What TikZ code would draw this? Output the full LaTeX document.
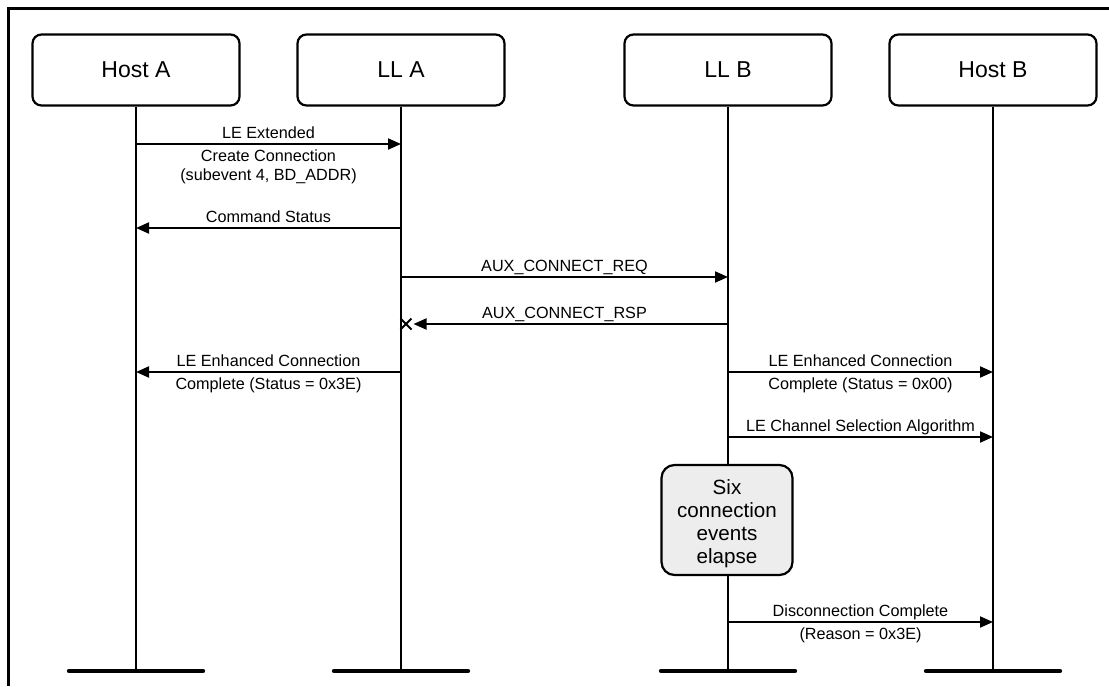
\documentclass[tikz,border=0pt]{standalone}
\usepackage{fontspec}
\setmainfont{Liberation Sans}
\usetikzlibrary{arrows.meta,calc,shapes.misc}

\begin{document}
\begin{tikzpicture}[x=0.5pt, y=-0.5pt, >={Triangle[length=6.5pt,width=5.5pt]},
    party/.style={draw, line width=1.1pt, rounded corners=4.5pt,
      minimum width=103.5pt, minimum height=35.5pt, inner sep=0pt,
      font=\fontsize{11.5}{14}\selectfont},
    lifeline/.style={line width=1pt},
    lineend/.style={line width=2.2pt, line cap=round},
    msg/.style={->, line width=1pt},
    uplbl/.style={anchor=base, yshift=2.6pt, inner sep=0pt,
      font=\fontsize{8.1}{9.5}\selectfont},
    dnlbl/.style={anchor=north, yshift=-2.3pt, inner sep=0pt, align=center,
      font=\fontsize{8.1}{9.5}\selectfont},
    lost/.style={cross out, draw, line width=1pt, minimum size=4.5pt, inner sep=0pt},
    waitbox/.style={draw, line width=1.1pt, rounded corners=6.5pt, fill=black!7,
      minimum width=65.5pt, minimum height=55pt, inner sep=0pt, align=center,
      font=\fontsize{10.3}{11.5}\selectfont}]
  \useasboundingbox (0,0) rectangle (1109,686);

  % frame
  \draw[line width=1.5pt] (8,686) -- (8,8) -- (1109,8);

  % parties
  \node[party] (hostA) at (136,70) {Host A};
  \node[party] (llA)   at (401,70) {LL A};
  \node[party] (llB)   at (728,70) {LL B};
  \node[party] (hostB) at (993,70) {Host B};

  \foreach \p in {hostA,llA,llB,hostB} {
    \coordinate (\p-end) at (\p |- 0,671);
    \draw[lifeline] (\p.south) -- (\p-end);
    \draw[lineend] ($(\p-end)+(-67,0)$) -- ($(\p-end)+(67,0)$);
  }

  % messages
  \draw[msg] (hostA |- 0,144) -- (llA |- 0,144)
    node[uplbl, midway] {LE Extended}
    node[dnlbl, midway] {Create Connection\\(subevent 4, BD\_ADDR)};
  \draw[msg] (llA |- 0,228) -- (hostA |- 0,228)
    node[uplbl, midway] {Command Status};
  \draw[msg] (llA |- 0,277) -- (llB |- 0,277)
    node[uplbl, midway] {AUX\_CONNECT\_REQ};

  \node[lost] (lostA) at ($(llA |- 0,324)+(5,0)$) {};
  \draw[msg] (llB |- 0,324) -- ([xshift=1pt]lostA.east)
    node[uplbl, pos=0.52] {AUX\_CONNECT\_RSP};

  \draw[msg] (llA |- 0,372) -- (hostA |- 0,372)
    node[uplbl, midway] {LE Enhanced Connection}
    node[dnlbl, midway] {Complete (Status = 0x3E)};
  \draw[msg] (llB |- 0,372) -- (hostB |- 0,372)
    node[uplbl, midway] {LE Enhanced Connection}
    node[dnlbl, midway] {Complete (Status = 0x00)};
  \draw[msg] (llB |- 0,437) -- (hostB |- 0,437)
    node[uplbl, midway] {LE Channel Selection Algorithm};

  \node[waitbox] (wait) at (727,520)
    {\rule{0pt}{11.5pt}Six\\connection\\events\\elapse};

  \draw[msg] (llB |- 0,622) -- (hostB |- 0,622)
    node[uplbl, midway] {Disconnection Complete}
    node[dnlbl, midway] {(Reason = 0x3E)};
\end{tikzpicture}
\end{document}
